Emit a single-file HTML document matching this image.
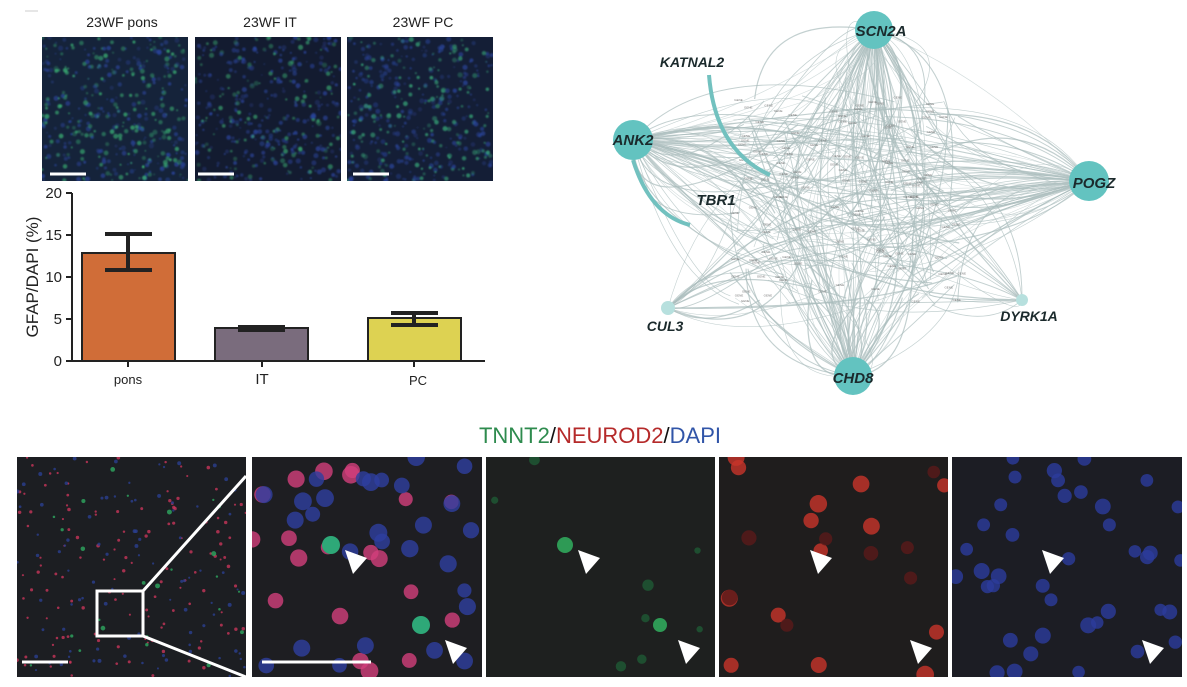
<!DOCTYPE html>
<html><head><meta charset="utf-8"><style>
body{margin:0;background:#fff;width:1187px;height:687px;overflow:hidden;font-family:"Liberation Sans",sans-serif;}
svg{position:absolute;left:0;top:0}
</style></head><body>
<svg id="s" width="1187" height="687" viewBox="0 0 1187 687" xmlns="http://www.w3.org/2000/svg">
<defs>
<clipPath id="c0"><rect x="42" y="37" width="146" height="144"/></clipPath>
<clipPath id="c1"><rect x="195" y="37" width="146" height="144"/></clipPath>
<clipPath id="c2"><rect x="347" y="37" width="146" height="144"/></clipPath>
<clipPath id="b0"><rect x="17" y="457" width="229" height="220"/></clipPath>
<clipPath id="b1"><rect x="252" y="457" width="230" height="220"/></clipPath>
<clipPath id="b2"><rect x="486" y="457" width="229" height="220"/></clipPath>
<clipPath id="b3"><rect x="719" y="457" width="229" height="220"/></clipPath>
<clipPath id="b4"><rect x="952" y="457" width="230" height="220"/></clipPath>
<filter id="bl"><feGaussianBlur stdDeviation="0.8"/></filter>
</defs>
<line x1="25" y1="11" x2="38" y2="11" stroke="#ccc" stroke-width="1"/>
<g font-size="14" fill="#222" text-anchor="middle">
<text x="122" y="27">23WF pons</text><text x="270" y="27">23WF IT</text><text x="423" y="27">23WF PC</text>
</g>
<rect x="42" y="37" width="146" height="144" fill="#15233a"/>
<rect x="195" y="37" width="146" height="144" fill="#131b30"/>
<rect x="347" y="37" width="146" height="144" fill="#141e36"/>
<g id="t0" clip-path="url(#c0)" filter="url(#bl)"></g>
<g id="t1" clip-path="url(#c1)" filter="url(#bl)"></g>
<g id="t2" clip-path="url(#c2)" filter="url(#bl)"></g>
<g stroke="#fff" stroke-width="3"><line x1="50" y1="174" x2="86" y2="174"/><line x1="198" y1="174" x2="234" y2="174"/><line x1="353" y1="174" x2="389" y2="174"/></g>
<g stroke="#222" stroke-width="2" fill="none">
<line x1="72" y1="193" x2="72" y2="361"/><line x1="66" y1="361" x2="485" y2="361"/>
<line x1="66" y1="193" x2="72" y2="193"/><line x1="66" y1="235" x2="72" y2="235"/><line x1="66" y1="277" x2="72" y2="277"/><line x1="66" y1="319" x2="72" y2="319"/>
<line x1="128" y1="361" x2="128" y2="367"/><line x1="262" y1="361" x2="262" y2="367"/><line x1="414" y1="361" x2="414" y2="367"/>
</g>
<rect x="82" y="253" width="93" height="108" fill="#d06d38" stroke="#222" stroke-width="2"/>
<rect x="215" y="328" width="93" height="33" fill="#7a6c7d" stroke="#222" stroke-width="2"/>
<rect x="368" y="318" width="93" height="43" fill="#ddd252" stroke="#222" stroke-width="2"/>
<g stroke="#222" stroke-width="4"><line x1="128" y1="270" x2="128" y2="234"/><line x1="105" y1="234" x2="152" y2="234"/><line x1="105" y1="270" x2="152" y2="270"/>
<line x1="238" y1="327" x2="285" y2="327"/><line x1="238" y1="330" x2="285" y2="330"/>
<line x1="391" y1="313" x2="438" y2="313"/><line x1="391" y1="325" x2="438" y2="325"/><line x1="414" y1="313" x2="414" y2="325"/></g>
<g font-size="15" fill="#222" text-anchor="end"><text x="62" y="198">20</text><text x="62" y="240">15</text><text x="62" y="282">10</text><text x="62" y="324">5</text><text x="62" y="366">0</text></g>
<text transform="translate(38,277) rotate(-90)" font-size="17" fill="#222" text-anchor="middle">GFAP/DAPI (%)</text>
<g font-size="13" fill="#222" text-anchor="middle"><text x="128" y="384">pons</text><text x="262" y="384" font-size="15">IT</text><text x="418" y="385">PC</text></g>
<g id="net" fill="none"></g>
<g id="nlab" font-size="3" fill="#777"></g>
<path d="M709,75 Q715,150 770,175" stroke="#72c1bf" stroke-width="4" fill="none"/>
<path d="M633,160 Q650,215 690,225" stroke="#72c1bf" stroke-width="4" fill="none"/>
<g fill="#63c3c0"><circle cx="874" cy="30" r="19"/><circle cx="633" cy="140" r="20"/><circle cx="1089" cy="181" r="20"/><circle cx="853" cy="376" r="19"/></g>
<g fill="#b7e0de"><circle cx="668" cy="308" r="7"/><circle cx="1022" cy="300" r="6"/></g>
<g font-size="15" font-weight="bold" font-style="italic" fill="#1b2a2c" text-anchor="middle">
<text x="881" y="36">SCN2A</text><text x="633" y="145">ANK2</text><text x="1094" y="188">POGZ</text><text x="853" y="383">CHD8</text>
<text x="692" y="67" font-size="14">KATNAL2</text><text x="716" y="205">TBR1</text><text x="665" y="331" font-size="14">CUL3</text><text x="1029" y="321" font-size="14">DYRK1A</text></g>
<text x="600" y="443" font-size="22" text-anchor="middle"><tspan fill="#2e8b4e">TNNT2</tspan><tspan fill="#111">/</tspan><tspan fill="#b52a2a">NEUROD2</tspan><tspan fill="#111">/</tspan><tspan fill="#3155a8">DAPI</tspan></text>
<rect x="17" y="457" width="229" height="220" fill="#1c1e22"/>
<rect x="252" y="457" width="230" height="220" fill="#1e1e22"/>
<rect x="486" y="457" width="229" height="220" fill="#1e201f"/>
<rect x="719" y="457" width="229" height="220" fill="#1f1d1d"/>
<rect x="952" y="457" width="230" height="220" fill="#1c1d24"/>
<g id="d0" clip-path="url(#b0)"></g><g id="d1" clip-path="url(#b1)"></g><g id="d2" clip-path="url(#b2)"></g><g id="d3" clip-path="url(#b3)"></g><g id="d4" clip-path="url(#b4)"></g>
<g stroke="#fff" stroke-width="3" fill="none"><rect x="97" y="591" width="46" height="45"/><line x1="143" y1="591" x2="246" y2="476"/><line x1="143" y1="636" x2="246" y2="677"/>
<line x1="22" y1="662" x2="68" y2="662"/><line x1="262" y1="662" x2="371" y2="662"/></g>
<g id="arrows" fill="#fff"></g>
</svg>
<script>
var seed=7;function r(){seed=(seed*16807)%2147483647;return (seed-1)/2147483646;}
var NS="http://www.w3.org/2000/svg";
function el(p,t,a){var e=document.createElementNS(NS,t);for(var k in a)e.setAttribute(k,a[k]);document.getElementById(p).appendChild(e);return e;}
[[42,"#3ec07a",0.45],[195,"#3aa870",0.25],[347,"#3bb880",0.4]].forEach(function(p,i){
 for(var j=0;j<420;j++)el("t"+i,"circle",{cx:p[0]+r()*146,cy:37+r()*144,r:0.8+r()*1.8,fill:r()<p[2]?p[1]:"#2a46a0",opacity:0.25+r()*0.45});
});
var hubs=[[874,30],[633,140],[1089,181],[853,376],[668,308],[1022,300]];
var w=[70,60,55,60,20,18];
for(var h=0;h<hubs.length;h++){for(var j=0;j<w[h];j++){var tx=730+r()*230,ty=95+r()*210;
 var mx=(hubs[h][0]+tx)/2+(r()-0.5)*140,my=(hubs[h][1]+ty)/2+(r()-0.5)*140;
 el("net","path",{d:"M"+hubs[h][0]+","+hubs[h][1]+" Q"+mx+","+my+" "+tx+","+ty,stroke:"#a9bcbc","stroke-width":0.5+r()*0.8,opacity:0.7});}}
for(var j=0;j<70;j++){var a=hubs[Math.floor(r()*4)],b=hubs[Math.floor(r()*4)];if(a==b)continue;
 el("net","path",{d:"M"+a[0]+","+a[1]+" Q"+(860+(r()-0.5)*300)+","+(200+(r()-0.5)*250)+" "+b[0]+","+b[1],stroke:"#b4c4c4","stroke-width":0.6,opacity:0.6});}
for(var j=0;j<120;j++){var t=el("nlab","text",{x:730+r()*230,y:95+r()*210});t.textContent="GENE";}
function dots(g,x0,n,col,rmin,rmax){for(var j=0;j<n;j++)el(g,"circle",{cx:x0+r()*229,cy:457+r()*220,r:rmin+r()*(rmax-rmin),fill:col,opacity:0.8});}
dots("d0",17,130,"#c8345a",1,1.8);dots("d0",17,90,"#2a3e90",1,2);dots("d0",17,25,"#2ea860",1,2.5);
dots("d1",252,20,"#d23f7c",7,9);dots("d1",252,28,"#2e3ea0",7,9);
dots("d2",486,8,"#1e5a34",3,6);
dots("d3",719,14,"#c8352a",7,9);dots("d3",719,8,"#5a1a1a",6,8);
dots("d4",952,40,"#2c3c9c",6,8);
el("d1","circle",{cx:331,cy:545,r:9,fill:"#2ea878"});el("d1","circle",{cx:421,cy:625,r:9,fill:"#2ea878"});
el("d2","circle",{cx:565,cy:545,r:8,fill:"#2e9a55"});el("d2","circle",{cx:660,cy:625,r:7,fill:"#2e9a55"});
[[345,550],[445,640],[578,550],[678,640],[810,550],[910,640],[1042,550],[1142,640]].forEach(function(p){
 el("arrows","polygon",{points:p[0]+","+p[1]+" "+(p[0]+22)+","+(p[1]+8)+" "+(p[0]+8)+","+(p[1]+24)});});
</script>
</body></html>
